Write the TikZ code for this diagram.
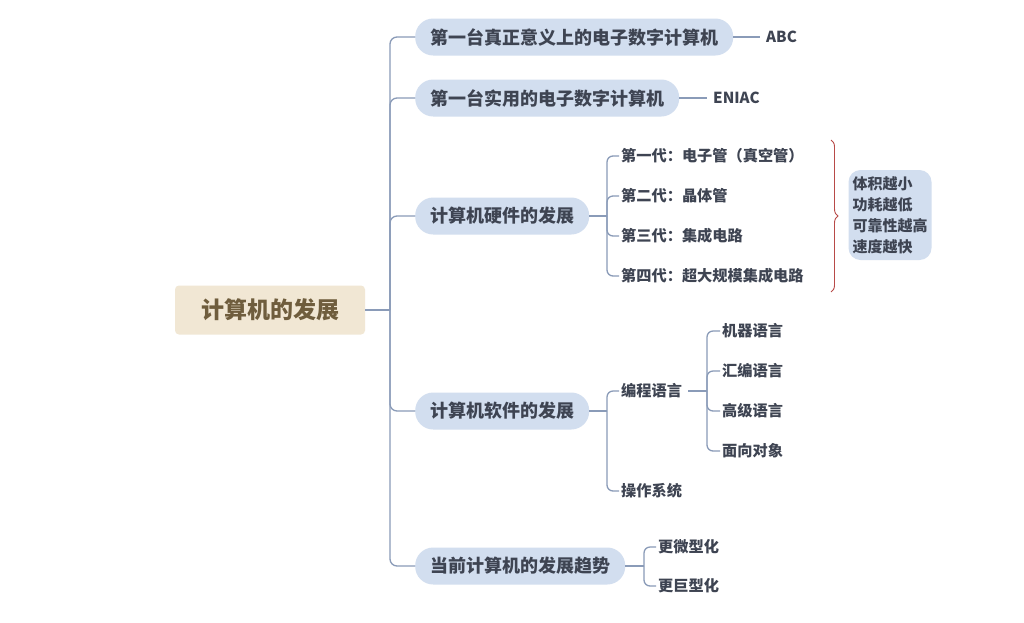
\documentclass[tikz,border=0pt]{standalone}
\usepackage{fontspec}
\setmainfont{Noto Sans CJK SC}
\usetikzlibrary{decorations.pathreplacing}
\definecolor{pill}{HTML}{D2DEEF}
\definecolor{txt}{HTML}{3E4452}
\definecolor{rootfill}{HTML}{F1E7D4}
\definecolor{roottxt}{HTML}{6F5D3D}
\definecolor{connc}{HTML}{8A9BB8}
\definecolor{bracec}{HTML}{B84A48}
\begin{document}
\begin{tikzpicture}[x=1pt,y=-1pt,
 rootbox/.style={fill=rootfill,text=roottxt,rounded corners=4pt,minimum height=49pt,minimum width=190pt,font=\fontsize{23}{27}\selectfont\bfseries},
 pillbox/.style={fill=pill,text=txt,rounded corners=18pt,minimum height=37pt,inner xsep=15pt,inner ysep=0pt,anchor=west,font=\fontsize{18}{21}\selectfont\bfseries},
 leaf/.style={text=txt,anchor=west,inner xsep=2pt,inner ysep=2pt,font=\fontsize{15.2}{18}\selectfont\bfseries},
 sumbox/.style={fill=pill,text=txt,rounded corners=12pt,align=left,inner xsep=4pt,minimum height=90pt,font=\fontsize{15}{21}\selectfont\bfseries},
 conn/.style={draw=connc,line width=1.3pt},
 curly/.style={draw=bracec,line width=0.9pt,decorate,decoration={brace,amplitude=7pt}}]
\useasboundingbox (0,0) rectangle (1024,622);
\fill[white] (0,0) rectangle (1024,622);

\node[rootbox] (root) at (270,310) {计算机的发展};

\node[pillbox] (a) at (415,37) {第一台真正意义上的电子数字计算机};
\node[pillbox] (b) at (415,98) {第一台实用的电子数字计算机};
\node[pillbox] (hw) at (415,216) {计算机硬件的发展};
\node[pillbox] (sw) at (415,411) {计算机软件的发展};
\node[pillbox] (tr) at (415,566) {当前计算机的发展趋势};

\node[leaf,inner xsep=6pt] (abc) at (760,37) {ABC};
\node[leaf,inner xsep=6pt] (eniac) at (707,98) {ENIAC};

\node[leaf] (g1) at (619,156) {第一代：电子管（真空管）};
\node[leaf] (g2) at (619,196) {第二代：晶体管};
\node[leaf] (g3) at (619,236) {第三代：集成电路};
\node[leaf] (g4) at (619,276) {第四代：超大规模集成电路};

\node[leaf] (pl) at (619,391) {编程语言};
\node[leaf] (os) at (619,491) {操作系统};
\node[leaf] (l1) at (720,331) {机器语言};
\node[leaf] (l2) at (720,371) {汇编语言};
\node[leaf] (l3) at (720,411) {高级语言};
\node[leaf] (l4) at (720,451) {面向对象};

\node[leaf] (t1) at (656,547) {更微型化};
\node[leaf] (t2) at (656,586) {更巨型化};

\node[sumbox] (sum) at (890,215) {体积越小\\功耗越低\\可靠性越高\\速度越快};

\coordinate (tj) at (390,310);
\draw[conn] (root.east) -- (tj);
\foreach \n in {a,b,hw,sw,tr} \draw[conn,rounded corners=7pt] (tj) |- (\n.west);

\draw[conn] (a.east) -- (abc.west);
\draw[conn] (b.east) -- (eniac.west);

\coordinate (hj) at (607,216);
\draw[conn] (hw.east) -- (hj);
\foreach \n in {g1,g2,g3,g4} \draw[conn,rounded corners=6pt] (hj) |- (\n.west);

\coordinate (sj) at (607,411);
\draw[conn] (sw.east) -- (sj);
\foreach \n in {pl,os} \draw[conn,rounded corners=6pt] (sj) |- (\n.west);

\coordinate (pj) at (707,391);
\draw[conn] ([xshift=4pt]pl.east) -- (pj);
\foreach \n in {l1,l2,l3,l4} \draw[conn,rounded corners=6pt] (pj) |- (\n.west);

\coordinate (trj) at (644,566);
\draw[conn] (tr.east) -- (trj);
\foreach \n in {t1,t2} \draw[conn,rounded corners=6pt] (trj) |- (\n.west);

\coordinate (bt) at (831,140);
\coordinate (bb) at (831,292);
\draw[curly] (bt) -- (bb);
\end{tikzpicture}
\end{document}
